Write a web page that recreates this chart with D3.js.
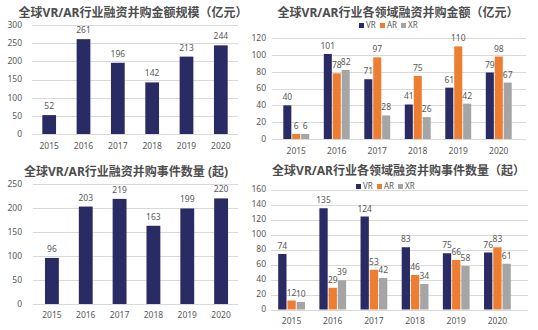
<!DOCTYPE html>
<html>
<head>
<meta charset="utf-8">
<script src="https://cdn.jsdelivr.net/npm/d3@7"></script>
<style>
  body { margin: 0; background: #fff; }
  svg { display: block; }
  text { font-family: "Noto Sans", "Noto Sans CJK SC", sans-serif; }
</style>
</head>
<body>
<script>
// data
const years = ["2015", "2016", "2017", "2018", "2019", "2020"];
const series = ["VR", "AR", "XR"];

const totalAmount = [52, 261, 196, 142, 213, 244];     // 亿元
const totalCount = [96, 203, 219, 163, 199, 220];      // 起

const amountVR = [40, 101, 71, 41, 61, 79];
const amountAR = [6, 78, 97, 75, 110, 98];
const amountXR = [6, 82, 28, 26, 42, 67];

const countVR = [74, 135, 124, 83, 75, 76];
const countAR = [12, 29, 53, 46, 66, 83];
const countXR = [10, 39, 42, 34, 58, 61];

const colors = { VR: "#2a2a64", AR: "#ed7d31", XR: "#a5a5a5" };
const textColor = "#595959";
const gridColor = "#d9d9d9";

const svg = d3.select("body").append("svg")
  .attr("width", 538)
  .attr("height", 330);

// draws one panel; single series when groups is null
function drawPanel(p) {
  const g = svg.append("g");

  const y = d3.scaleLinear().domain([0, p.max]).range([p.y0, p.y1]);
  const x = d3.scaleBand().domain(years).range([p.x0, p.x1])
    .paddingInner(p.pad).paddingOuter(p.pad / 2);

  // gridlines
  g.selectAll(".grid")
    .data(d3.range(0, p.max + 1, p.step))
    .enter().append("line")
    .attr("x1", p.gx0).attr("x2", p.gx1)
    .attr("y1", d => Math.round(y(d)) + 0.5)
    .attr("y2", d => Math.round(y(d)) + 0.5)
    .attr("stroke", gridColor)
    .attr("stroke-width", 1);

  // y tick labels
  g.selectAll(".ylab")
    .data(d3.range(0, p.max + 1, p.step))
    .enter().append("text")
    .attr("x", p.ylabX)
    .attr("y", d => y(d))
    .attr("dy", "0.35em")
    .attr("text-anchor", "end")
    .attr("font-size", 8.5)
    .attr("fill", textColor)
    .text(d => d);

  // x tick labels
  g.selectAll(".xlab")
    .data(years)
    .enter().append("text")
    .attr("x", d => x(d) + x.bandwidth() / 2)
    .attr("y", p.xlabY)
    .attr("text-anchor", "middle")
    .attr("font-size", 8.5)
    .attr("fill", textColor)
    .text(d => d);

  // title
  g.append("text")
    .attr("x", p.titleX)
    .attr("y", p.titleY)
    .attr("text-anchor", "middle")
    .attr("font-size", 12)
    .attr("font-weight", "bold")
    .attr("fill", "#4d4d4d")
    .text(p.title);

  if (!p.groups) {
    const data = years.map((yr, i) => ({ yr, v: p.values[i] }));
    g.selectAll(".bar").data(data).enter().append("rect")
      .attr("x", d => x(d.yr))
      .attr("width", x.bandwidth())
      .attr("y", d => y(d.v))
      .attr("height", d => y(0) - y(d.v))
      .attr("fill", colors.VR);
    g.selectAll(".val").data(data).enter().append("text")
      .attr("x", d => x(d.yr) + x.bandwidth() / 2)
      .attr("y", d => y(d.v) - 6)
      .attr("text-anchor", "middle")
      .attr("font-size", 8.5)
      .attr("fill", textColor)
      .text(d => d.v);
    return;
  }

  const xs = d3.scaleBand().domain(series).range([0, x.bandwidth()]).paddingInner(0.1);
  const data = [];
  years.forEach((yr, i) => {
    series.forEach((s, j) => data.push({ yr, s, v: p.groups[j][i] }));
  });
  g.selectAll(".bar").data(data).enter().append("rect")
    .attr("x", d => x(d.yr) + xs(d.s))
    .attr("width", xs.bandwidth())
    .attr("y", d => y(d.v))
    .attr("height", d => y(0) - y(d.v))
    .attr("fill", d => colors[d.s]);
  g.selectAll(".val").data(data).enter().append("text")
    .attr("x", d => x(d.yr) + xs(d.s) + xs.bandwidth() / 2)
    .attr("y", d => y(d.v) - 5)
    .attr("text-anchor", "middle")
    .attr("font-size", 8.5)
    .attr("fill", textColor)
    .text(d => d.v);

  // legend
  const lg = g.append("g").attr("transform", `translate(${p.legendX},${p.legendY})`);
  const legendStep = [0, 21, 42];
  series.forEach((s, j) => {
    lg.append("rect")
      .attr("x", legendStep[j]).attr("y", -2.5)
      .attr("width", 5).attr("height", 5)
      .attr("fill", colors[s]);
    lg.append("text")
      .attr("x", legendStep[j] + 7).attr("y", 0)
      .attr("dy", "0.35em")
      .attr("font-size", 8)
      .attr("fill", textColor)
      .text(s);
  });
}

drawPanel({
  title: "全球VR/AR行业融资并购金额规模（亿元）",
  titleX: 133, titleY: 16.5,
  values: totalAmount, max: 300, step: 50,
  x0: 32, x1: 238, gx0: 32, gx1: 238, pad: 0.6,
  y0: 134, y1: 25, ylabX: 22, xlabY: 149
});

drawPanel({
  title: "全球VR/AR行业各领域融资并购金额（亿元）",
  titleX: 398, titleY: 16.5,
  groups: [amountVR, amountAR, amountXR], max: 120, step: 20,
  x0: 276, x1: 519, gx0: 272, gx1: 526, pad: 0.36,
  y0: 139, y1: 38, ylabX: 266, xlabY: 154,
  legendX: 359, legendY: 25.5
});

drawPanel({
  title: "全球VR/AR行业融资并购事件数量 (起)",
  titleX: 126, titleY: 176,
  values: totalCount, max: 250, step: 50,
  x0: 35, x1: 238, gx0: 33, gx1: 238, pad: 0.59,
  y0: 304, y1: 184, ylabX: 22, xlabY: 318
});

drawPanel({
  title: "全球VR/AR行业各领域融资并购事件数量（起）",
  titleX: 398.5, titleY: 175,
  groups: [countVR, countAR, countXR], max: 160, step: 20,
  x0: 271, x1: 518, gx0: 271, gx1: 528, pad: 0.35,
  y0: 309.5, y1: 189.5, ylabX: 266, xlabY: 324,
  legendX: 356, legendY: 186.5
});
</script>
</body>
</html>
